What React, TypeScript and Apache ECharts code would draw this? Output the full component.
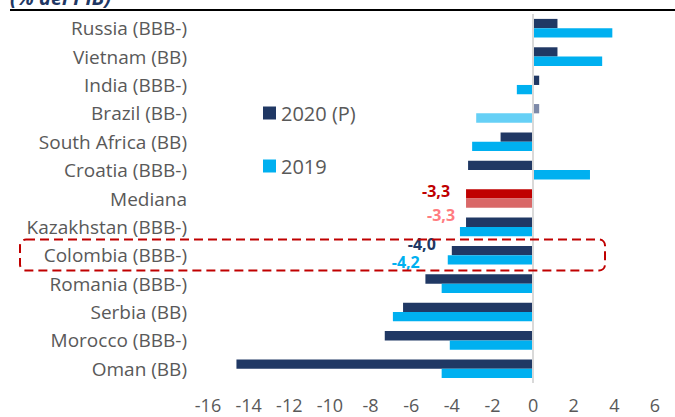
import React, { useEffect, useRef } from "react";
import * as echarts from "echarts";

const categories = [
  "Russia (BBB-)",
  "Vietnam (BB)",
  "India (BBB-)",
  "Brazil (BB-)",
  "South Africa (BB)",
  "Croatia (BBB-)",
  "Mediana",
  "Kazakhstan (BBB-)",
  "Colombia (BBB-)",
  "Romania (BBB-)",
  "Serbia (BB)",
  "Morocco (BBB-)",
  "Oman (BB)",
];
const values2020 = [1.2, 1.2, 0.3, 0.3, -1.6, -3.2, -3.3, -3.3, -4.0, -5.3, -6.4, -7.3, -14.6];
const values2019 = [3.9, 3.4, -0.8, -2.8, -3.0, 2.8, -3.3, -3.6, -4.2, -4.5, -6.9, -4.1, -4.5];
const seriesNames = ["2020 (P)", "2019"];
const xTicks = { min: -16, max: 6, interval: 2 };
const titleText = "(% del PIB)";

const FONT = '"Open Sans", sans-serif';
const GREY = "#595959";
const NAVY = "#203864";
const CYAN = "#00b0f0";

// per-category style overrides (presentation only)
const colorOverrides2020: Record<string, string> = {
  "Brazil (BB-)": "#7d89a8",
  Mediana: "#c00000",
};
const colorOverrides2019: Record<string, string> = {
  "Brazil (BB-)": "#66d0f6",
  Mediana: "#d96868",
};
const labelStyles2020: Record<string, { color: string; offset: number[] }> = {
  Mediana: { color: "#c00000", offset: [-16, -3] },
  "Colombia (BBB-)": { color: NAVY, offset: [-16, -7] },
};
const labelStyles2019: Record<string, { color: string; offset: number[] }> = {
  Mediana: { color: "#ff7c80", offset: [-11, 12] },
  "Colombia (BBB-)": { color: CYAN, offset: [-28, 2] },
};

const fmt = (v: number) => v.toFixed(1).replace(".", ",");

function buildData(
  values: number[],
  colors: Record<string, string>,
  labels: Record<string, { color: string; offset: number[] }>
) {
  return values.map((v, i) => {
    const cat = categories[i];
    const item: any = { value: v };
    if (colors[cat]) item.itemStyle = { color: colors[cat] };
    if (labels[cat]) {
      item.label = {
        show: true,
        position: "left",
        distance: 0,
        offset: labels[cat].offset,
        color: labels[cat].color,
        fontFamily: FONT,
        fontWeight: "bold",
        fontSize: 16,
        formatter: (p: any) => fmt(p.value),
      };
    }
    return item;
  });
}

export default function App() {
  const ref = useRef<HTMLDivElement>(null);
  useEffect(() => {
    if (!ref.current) return;
    const chart = echarts.init(ref.current, null, { renderer: "svg" });
    chart.setOption({
      animation: false,
      backgroundColor: "#ffffff",
      textStyle: { fontFamily: FONT },
      grid: { left: 208, right: 20, top: 14, bottom: 34, containLabel: false },
      legend: {
        data: seriesNames,
        orient: "vertical",
        left: 258,
        top: 97,
        icon: "rect",
        itemWidth: 13,
        itemHeight: 13,
        itemGap: 31,
        itemTextGap: 7,
        textStyle: { fontSize: 20, color: GREY, fontFamily: FONT, lineHeight: 22 },
      },
      xAxis: {
        type: "value",
        min: xTicks.min,
        max: xTicks.max,
        interval: xTicks.interval,
        splitLine: { show: false },
        axisLine: { show: false },
        axisTick: { show: false },
        axisLabel: {
          color: GREY,
          fontSize: 18,
          fontFamily: FONT,
          lineHeight: 14,
          margin: 15,
        },
      },
      yAxis: {
        type: "category",
        data: categories,
        inverse: true,
        axisLine: { show: false },
        axisTick: { show: false },
        axisLabel: { color: GREY, fontSize: 19, fontFamily: FONT, margin: 21 },
      },
      series: [
        {
          name: seriesNames[0],
          type: "bar",
          barWidth: 9.3,
          barGap: "0%",
          itemStyle: { color: NAVY },
          data: buildData(values2020, colorOverrides2020, labelStyles2020),
          markLine: {
            silent: true,
            symbol: "none",
            label: { show: false },
            lineStyle: { color: "#d9d9d9", width: 2, type: "solid" },
            data: [{ xAxis: 0 }],
          },
        },
        {
          name: seriesNames[1],
          type: "bar",
          barWidth: 9.3,
          barGap: "0%",
          itemStyle: { color: CYAN },
          data: buildData(values2019, colorOverrides2019, labelStyles2019),
        },
      ],
      graphic: [
        {
          type: "text",
          x: 10,
          y: 7,
          style: {
            text: titleText,
            font: 'italic bold 20px "Open Sans", sans-serif',
            fill: "#1f3864",
            verticalAlign: "bottom",
          },
        },
        {
          type: "line",
          shape: { x1: 10, y1: 10, x2: 675, y2: 10 },
          style: { stroke: "#000000", lineWidth: 2 },
        },
        {
          type: "rect",
          shape: { x: 20, y: 239.5, width: 585, height: 31, r: 6 },
          style: { fill: "none", stroke: "#c00000", lineWidth: 2, lineDash: [9, 5] },
          z: 100,
        },
      ],
    });
    return () => chart.dispose();
  }, []);
  return (
    <div
      ref={ref}
      style={{ position: "fixed", left: 0, top: 0, width: 675, height: 417 }}
    />
  );
}
